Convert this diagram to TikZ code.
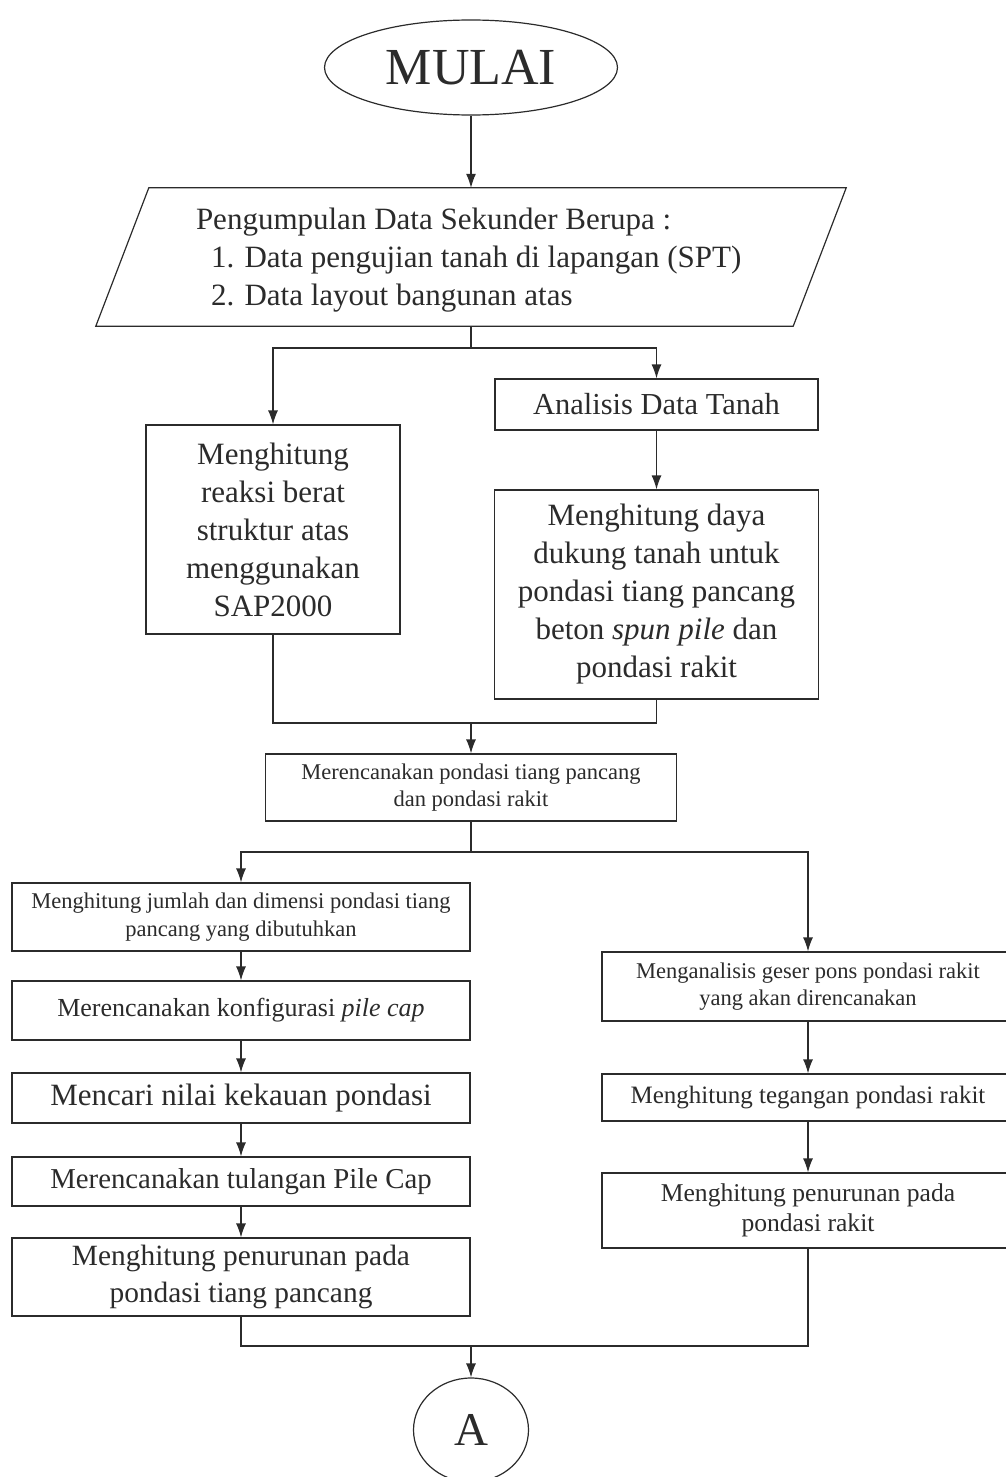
\documentclass[tikz,border=0pt]{standalone}
\usepackage{fontspec}
\setmainfont{Liberation Serif}
\usetikzlibrary{arrows.meta,positioning,calc,shapes.geometric}
\definecolor{ink}{HTML}{2B2B2B}
\tikzset{
  procbox/.style={draw=ink,line width=1.2pt,rectangle,align=center,
    inner sep=0pt,text=ink},
  termnode/.style={draw=ink,line width=1.2pt,ellipse,inner sep=0pt,text=ink},
  arrow/.style={-{Latex[length=14pt,width=10pt]},draw=ink,line width=1.2pt},
  link/.style={draw=ink,line width=1.2pt},
  txtL/.style={font=\fontsize{31}{38}\selectfont},
  txtS/.style={font=\fontsize{22.5}{27.5}\selectfont}
}

\begin{document}
\begin{tikzpicture}[x=1pt,y=-1pt]
      \useasboundingbox (0,0) rectangle (1006,1477);
      % start and input
      \node[termnode,minimum width=293pt,minimum height=95pt,font=\fontsize{52}{60}\selectfont] (start) at (471,67.5) {MULAI};
      \node[align=left,inner sep=0pt,minimum width=750pt,minimum height=138pt,txtL,text=ink] (data) at (471,257)
        {\parbox{550pt}{\vspace*{6pt}Pengumpulan Data Sekunder Berupa :\\
         \hspace*{15pt}1. Data pengujian tanah di lapangan (SPT)\\
         \hspace*{15pt}2. Data layout bangunan atas}};
      \draw[link] ($(data.north west)+(53,0)$) -- (data.north east)
        -- ($(data.south east)+(-53,0)$) -- (data.south west) -- cycle;
      % first split
      \node[procbox,txtL,minimum width=254pt,minimum height=209pt] (reaksi) at (273,529.5)
        {Menghitung\\reaksi berat\\struktur atas\\menggunakan\\SAP2000};
      \node[procbox,font=\fontsize{30.5}{37}\selectfont,minimum width=323pt,minimum height=51pt] (analisis) at (656.5,404.5)
        {Analisis Data Tanah};
      \node[procbox,txtL,minimum width=324pt,minimum height=209pt] (daya) at (656.5,594.5)
        {Menghitung daya\\dukung tanah untuk\\pondasi tiang pancang\\beton \emph{spun pile} dan\\pondasi rakit};
      \node[procbox,txtS,minimum width=411pt,minimum height=67pt] (rencana) at (471,787.5)
        {Merencanakan pondasi tiang pancang\\dan pondasi rakit};
      % pile branch
      \node[procbox,txtS,minimum width=458pt,minimum height=68pt] (jumlah) at (241,917)
        {Menghitung jumlah dan dimensi pondasi tiang\\pancang yang dibutuhkan};
      \node[procbox,font=\fontsize{26}{32}\selectfont,minimum width=458pt,minimum height=59pt] (konfig) at (241,1010.5)
        {Merencanakan konfigurasi \emph{pile cap}};
      \node[procbox,font=\fontsize{31}{38}\selectfont,minimum width=458pt,minimum height=50pt] (kekauan) at (241,1098)
        {Mencari nilai kekauan pondasi};
      \node[procbox,font=\fontsize{28.8}{35}\selectfont,minimum width=458pt,minimum height=49pt] (tulangan) at (241,1181.5)
        {Merencanakan tulangan Pile Cap};
      \node[procbox,font=\fontsize{29.4}{37}\selectfont,minimum width=458pt,minimum height=78pt] (turunP) at (241,1277)
        {Menghitung penurunan pada\\pondasi tiang pancang};
      % raft branch
      \node[procbox,txtS,minimum width=412pt,minimum height=69pt] (pons) at (808,986.5)
        {Menganalisis geser pons pondasi rakit\\yang akan direncanakan};
      \node[procbox,font=\fontsize{25}{30}\selectfont,minimum width=412pt,minimum height=47pt] (tegangan) at (808,1097.5)
        {Menghitung tegangan pondasi rakit};
      \node[procbox,font=\fontsize{25.6}{30}\selectfont,minimum width=412pt,minimum height=75pt] (turunR) at (808,1210.5)
        {Menghitung penurunan pada\\pondasi rakit};
      \node[termnode,minimum width=115pt,minimum height=104pt,font=\fontsize{47}{54}\selectfont] (endA) at (471,1430) {A};
      % junctions
      \coordinate (j1) at (471,348);
      \coordinate (j2) at (471,723);
      \coordinate (j3) at (471,852);
      \coordinate (j4) at (471,1346);
      % connectors
      \draw[arrow] (start) -- (start.south |- data.north);
      \draw[link] (data.south) -- (j1);
      \draw[arrow] (j1) -| (reaksi.north);
      \draw[arrow] (j1) -| (analisis.north);
      \draw[arrow] (analisis) -- (daya);
      \draw[link] (reaksi.south) |- (j2) -| (daya.south);
      \draw[arrow] (j2) -- (rencana.north);
      \draw[link] (rencana.south) -- (j3);
      \draw[arrow] (j3) -| (jumlah.north);
      \draw[arrow] (j3) -| (pons.north);
      \draw[arrow] (jumlah) -- (konfig);
      \draw[arrow] (konfig) -- (kekauan);
      \draw[arrow] (kekauan) -- (tulangan);
      \draw[arrow] (tulangan) -- (turunP);
      \draw[arrow] (pons) -- (tegangan);
      \draw[arrow] (tegangan) -- (turunR);
      \draw[link] (turunP.south) |- (j4) -| (turunR.south);
      \draw[arrow] (j4) -- (endA.north);
    \end{tikzpicture}
\end{document}
